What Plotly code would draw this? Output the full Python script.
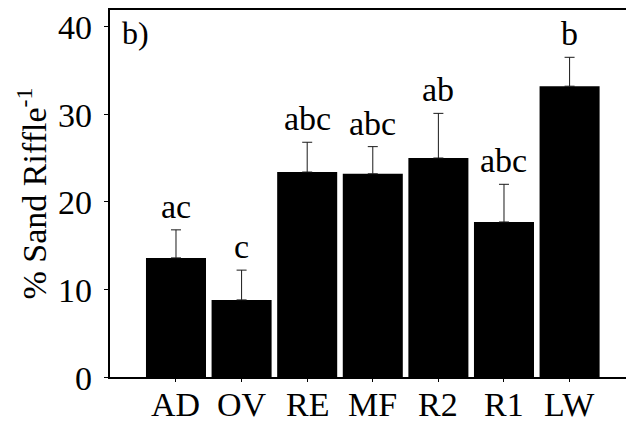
import plotly.graph_objects as go

categories = ["AD", "OV", "RE", "MF", "R2", "R1", "LW"]
means = [13.6, 8.8, 23.4, 23.2, 25.0, 17.7, 33.2]
err_upper = [3.2, 3.4, 3.4, 3.1, 5.1, 4.3, 3.3]
letters = ["ac", "c", "abc", "abc", "ab", "abc", "b"]
y_ticks = [0, 10, 20, 30, 40]

FONT = "Liberation Serif, Times New Roman, serif"
FS = 34
W, H = 626, 425
L, R, T, B = 110, 0, 10, 48
pw, ph = W - L - R, H - T - B

fig = go.Figure()
fig.add_trace(go.Bar(
    x=list(range(len(categories))), y=means,
    marker=dict(color="black", line=dict(width=0)),
    width=0.915,
    error_y=dict(type="data", array=err_upper, arrayminus=[0]*len(means),
                 symmetric=False, color="#1a1a1a", thickness=1, width=5),
))

for i, (m, e, t) in enumerate(zip(means, err_upper, letters)):
    fig.add_annotation(x=i, y=m + e, text=t, showarrow=False, xref="x", yref="y",
                       yanchor="bottom", yshift=3,
                       font=dict(family=FONT, size=FS, color="black"))

for i, c in enumerate(categories):
    fig.add_annotation(x=i, y=0, text=c, showarrow=False, xref="x", yref="paper",
                       yanchor="top", yshift=-7,
                       font=dict(family=FONT, size=FS, color="black"))

for v in y_ticks:
    fig.add_annotation(x=0, y=v, text=str(v), showarrow=False, xref="paper", yref="y",
                       xanchor="right", yanchor="middle", xshift=-16, yshift=-1,
                       font=dict(family=FONT, size=FS, color="black"))

fig.add_annotation(xref="paper", yref="paper", x=(120 - L) / pw, y=1 - (13 - T) / ph,
                   xanchor="left", yanchor="top", text="b)", showarrow=False,
                   font=dict(family=FONT, size=32, color="black"))

fig.add_annotation(xref="paper", yref="paper", x=(31 - L) / pw, y=0.5,
                   xanchor="center", yanchor="middle", textangle=-90,
                   text="% Sand Riffle<sup>-1</sup>", showarrow=False,
                   font=dict(family=FONT, size=FS, color="black"))

fig.update_layout(
    width=W, height=H,
    margin=dict(l=L, r=R, t=T, b=B, autoexpand=False),
    paper_bgcolor="white", plot_bgcolor="white",
    showlegend=False,
    font=dict(family=FONT, size=FS, color="black"),
    xaxis=dict(range=[-1.006, 6.86], tickmode="array",
               tickvals=list(range(len(categories))), showticklabels=False,
               showline=True, linecolor="black", linewidth=1.5, mirror=True,
               ticks="outside", ticklen=3, tickcolor="black", tickwidth=1,
               showgrid=False, zeroline=False),
    yaxis=dict(range=[0, 41.9], tickmode="array", tickvals=y_ticks,
               showticklabels=False,
               showline=True, linecolor="black", linewidth=1.5, mirror=False,
               ticks="outside", ticklen=4, tickcolor="black", tickwidth=1,
               showgrid=False, zeroline=False),
)

fig.write_html("out.html")
